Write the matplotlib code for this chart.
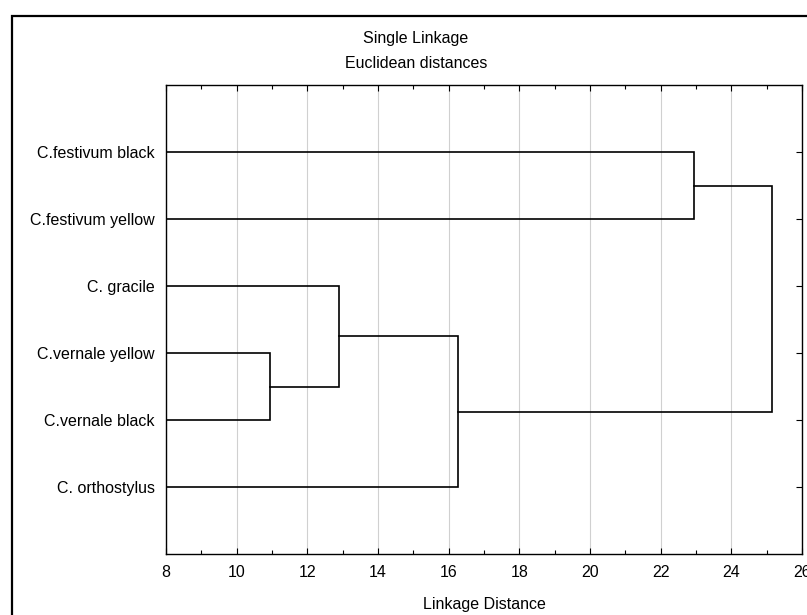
import matplotlib
matplotlib.use("Agg")
import matplotlib.pyplot as plt
from matplotlib.patches import Rectangle
from matplotlib.ticker import MultipleLocator

plt.rcParams['font.family'] = ['Liberation Sans', 'DejaVu Sans']

# Data (leaves listed top to bottom)
labels = ["C.festivum black", "C.festivum yellow", "C. gracile",
          "C.vernale yellow", "C.vernale black", "C. orthostylus"]
# merges: cluster a + cluster b at linkage distance; new ids start at len(labels)
merge_a = [3, 2, 7, 0, 9]
merge_b = [4, 6, 5, 1, 8]
merge_h = [10.94, 12.90, 16.25, 22.95, 25.14]

X_MIN, X_MAX = 8, 26
FS = 11.5

fig = plt.figure(figsize=(8.07, 6.15), dpi=100)
ax = fig.add_axes([166 / 807, 61 / 615, 636 / 807, 469 / 615])

n = len(labels)
node_x = {i: X_MIN for i in range(n)}
node_y = {i: n - i for i in range(n)}
for k, (a, b, h) in enumerate(zip(merge_a, merge_b, merge_h)):
    ax.plot([node_x[a], h, h, node_x[b]], [node_y[a], node_y[a], node_y[b], node_y[b]],
            color="black", lw=1.2, solid_joinstyle="miter", zorder=3)
    node_x[n + k] = h
    node_y[n + k] = (node_y[a] + node_y[b]) / 2

ax.set_xlim(X_MIN, X_MAX)
ax.set_ylim(0, n + 1)
ax.xaxis.set_major_locator(MultipleLocator(2))
ax.xaxis.set_minor_locator(MultipleLocator(1))
ax.grid(axis="x", which="major", color="#d0d0d0", lw=0.8)
ax.set_yticks([n - i for i in range(n)])
ax.set_yticklabels(labels)

ax.tick_params(axis="x", which="both", direction="in", top=True, bottom=True,
               labelsize=FS, pad=8)
ax.tick_params(axis="x", which="major", length=4, width=0.8)
ax.tick_params(axis="x", which="minor", length=3, width=0.8)
ax.tick_params(axis="y", direction="in", left=False, right=True, length=4,
               width=0.8, labelsize=FS, pad=8)
for s in ax.spines.values():
    s.set_linewidth(1.0)

ax.set_xlabel("Linkage Distance", fontsize=FS, labelpad=12)
fig.text(416 / 807, 1 - 38 / 615, "Single Linkage", ha="center", va="center", fontsize=FS)
fig.text(416 / 807, 1 - 63 / 615, "Euclidean distances", ha="center", va="center", fontsize=FS)

# outer frame
fig.patches.append(Rectangle((12 / 807, -0.1), 1.2, 1.1 - 16 / 615, transform=fig.transFigure,
                             fill=False, ec="black", lw=1.6, clip_on=False))

fig.savefig("out.png", dpi=100)
